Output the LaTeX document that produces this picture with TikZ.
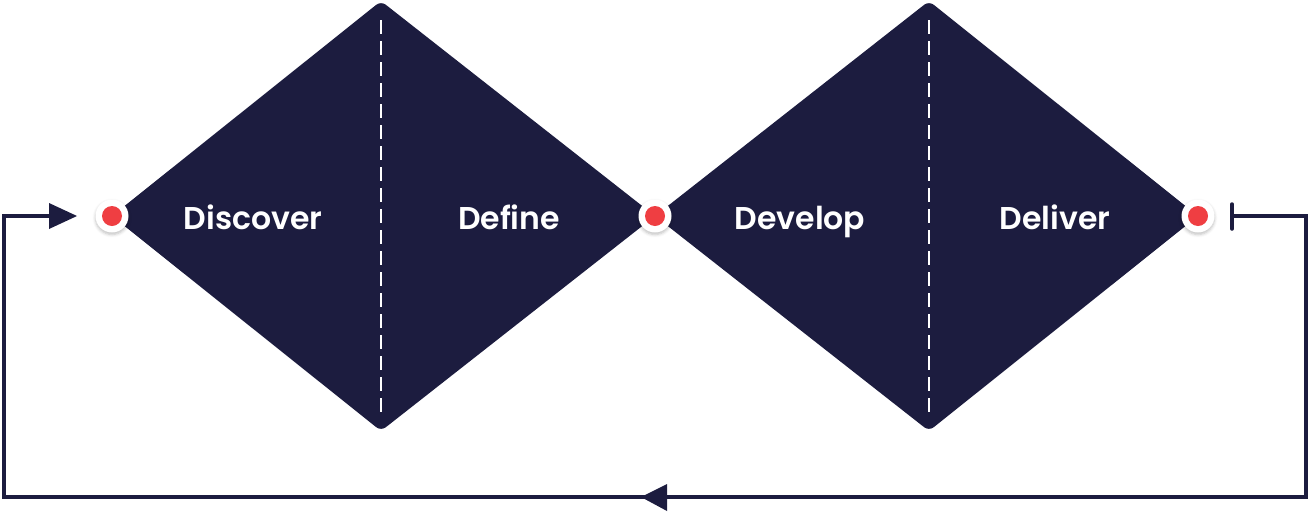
\documentclass[tikz,border=0pt]{standalone}
\usepackage{fontspec}
\setmainfont{Poppins}[BoldFont=Poppins SemiBold]
\usetikzlibrary{calc,shadows.blur}
\definecolor{navy}{HTML}{1C1C3F}
\definecolor{dotred}{HTML}{EF3E42}
\tikzset{
  diam/.style={fill=navy, rounded corners=6pt},
  divider/.style={white, line width=1.5pt, dash pattern=on 14pt off 7pt},
  phase/.style={text=white, font=\bfseries\fontsize{31.5}{36}\selectfont, inner sep=0pt, anchor=base},
  dotring/.style={circle, fill=white, minimum size=33pt, inner sep=0pt, blur shadow={shadow xshift=0pt, shadow yshift=-2pt, shadow blur radius=3pt, shadow opacity=25}},
  dotcore/.style={circle, fill=dotred, minimum size=20pt, inner sep=0pt},
  loopline/.style={navy, line width=3.5pt},
  tip/.style={fill=navy},
}
\begin{document}
\begin{tikzpicture}[x=1pt,y=-1pt]
\useasboundingbox (0,0) rectangle (1310,512);
% diamonds
\coordinate (l1) at (112,216);
\coordinate (m) at (655,216);
\coordinate (r2) at (1198,216);
\coordinate (t1) at (381,1);
\coordinate (b1) at (381,431);
\coordinate (t2) at (929,1);
\coordinate (b2) at (929,431);
\fill[diam] (l1) -- (t1) -- (m) -- (b1) -- cycle;
\fill[diam] (m) -- (t2) -- (r2) -- (b2) -- cycle;
% dividers
\draw[divider] (381,20) -- (381,417);
\draw[divider] (929,20) -- (929,417);
% labels
\node[phase] (discover) at (253,229.5) {Discover};
\node[phase] (define) at (509,229.5) {Define};
\node[phase] (develop) at (800,229.5) {Develop};
\node[phase] (deliver) at (1055,229.5) {Deliver};
% dots
\foreach \n/\p in {d1/l1, d2/m, d3/r2}{
  \node[dotring] (\n) at (\p) {};
  \node[dotcore] (\n c) at (\p) {};
}
% loop
\coordinate (start) at (1232,216);
\coordinate (endtip) at (77,216);
\draw[loopline, line cap=round] (1232,204) -- (1232,229);
\draw[loopline] (start) -- (1306,216) -- (1306,497) -- (4,497) -- (4,216) -- (60,216);
\fill[tip] (endtip) -- (49,203) -- (49,229) -- cycle;
\fill[tip] (641,497) -- (667,484) -- (667,511) -- cycle;
\end{tikzpicture}
\end{document}
